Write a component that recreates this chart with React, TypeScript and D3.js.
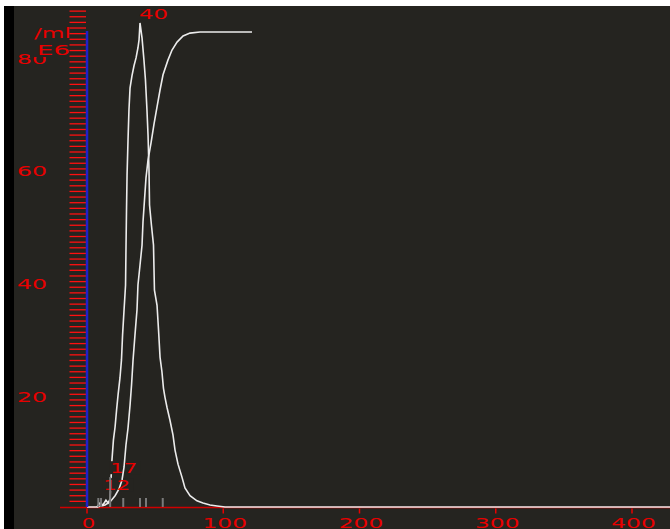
import React from 'react';
import * as d3 from 'd3';

// ---- data ----
const xTickValues = [0, 100, 200, 300, 400];
const yLabelValues = [20, 40, 60, 80];
const yMinorTickValues = d3.range(1, 89);

const histX = [0, 7.3, 9.5, 11.7, 13.9, 15.4, 16.9, 17.6, 18.3, 19.4, 20.6, 21.7, 22.8, 24.2, 25.3, 26.1, 27.2, 28.3, 28.6, 29.0, 29.4, 30.1, 30.8, 31.6, 33.0, 34.5, 36.0, 37.4, 38.2, 38.9, 40.4, 41.8, 42.9, 44.0, 44.8, 45.5, 45.9, 47.3, 48.8, 49.5, 51.4, 52.5, 53.6, 55.0, 56.1, 57.2, 58.7, 60.9, 63.1, 64.6, 66.8, 69.7, 71.9, 75.6, 80.7, 85.1, 90.3, 95.4, 101.3, 428];
const histY = [0, 0, 0.7, 0.35, 1.2, 0.7, 1.4, 4.8, 8.3, 11.9, 14.2, 17.2, 19.9, 22.9, 26.1, 30.5, 35.0, 39.4, 45.6, 52.7, 58.9, 65.1, 70.5, 74.4, 76.5, 78.3, 79.7, 81.5, 82.9, 85.9, 83.2, 79.3, 75.8, 70.5, 66.0, 59.8, 53.6, 50.0, 46.5, 38.5, 35.8, 31.4, 26.6, 24.0, 21.1, 19.5, 17.7, 15.4, 12.8, 10.1, 7.6, 5.3, 3.4, 2.0, 1.1, 0.7, 0.35, 0.18, 0, 0];

const cumX = [7.3, 13.2, 16.9, 20.6, 23.5, 25.7, 27.2, 28.6, 30.1, 31.6, 32.7, 33.8, 35.2, 36.7, 37.4, 38.9, 40.4, 41.1, 42.2, 43.3, 44.8, 47.0, 49.2, 51.4, 53.6, 55.8, 59.4, 62.4, 66.1, 70.5, 75.6, 82.9, 121.1];
const cumY = [0, 0.35, 0.9, 2.0, 3.2, 4.8, 7.1, 11.0, 14.0, 18.1, 21.7, 26.1, 30.5, 35.0, 39.4, 42.9, 46.5, 50.6, 54.5, 58.4, 61.6, 64.6, 68.0, 71.0, 74.0, 76.7, 79.3, 81.1, 82.5, 83.6, 84.1, 84.3, 84.3];

const markerX = [8.3, 10.3, 17, 26.6, 38.9, 43.3, 55.6];
const markerH = [1.6, 1.6, 5.3, 1.6, 1.6, 1.6, 1.6];

const peakLabel = '40';
const discValues = [12, 17];
const discLabels = ['12', '17'];
const discLevels = [3.0, 6.0];

const unitLabel = '/ml';
const expLabel = 'E6';

// ---- layout ----
const W = 670;
const H = 529;
const RED = '#e80000';
const FONT = "'DejaVu Sans', sans-serif";

export default function App() {
  const x = d3.scaleLinear().domain([0, 400]).range([87, 632]);
  const y = d3.scaleLinear().domain([0, 88]).range([507, 507 - 88 * 5.635]);

  const line = d3
    .line<[number, number]>()
    .x((d) => x(d[0]))
    .y((d) => y(d[1]));

  const hist = histX.map((v, i) => [v, histY[i]] as [number, number]);
  const cum = cumX.map((v, i) => [v, cumY[i]] as [number, number]);
  const peakIdx = histY.indexOf(d3.max(histY) as number);

  const tl = (s: string) => s.length * 15.5 - 2;

  return (
    <svg
      width={W}
      height={H}
      style={{ position: 'absolute', left: 0, top: 0, display: 'block' }}
    >
      <rect x={0} y={0} width={W} height={H} fill="#ffffff" />
      <rect x={4} y={6} width={W - 4} height={H - 6} fill="#000000" />
      <rect x={14} y={6} width={W - 14} height={H - 6} fill="#252420" />

      {/* x axis baseline */}
      <line x1={60} x2={W} y1={507.5} y2={507.5} stroke="#d00000" strokeWidth={1.5} />

      {/* histogram */}
      <path d={line(hist) || ''} fill="none" stroke="#ececec" strokeWidth={1.6} />

      {/* discriminator labels with boxes */}
      {discLabels.map((s, i) => (
        <g key={s}>
          <rect
            x={x(discValues[i]) - 1}
            y={y(discLevels[i]) - 12}
            width={tl(s) + 2}
            height={13}
            fill="#252420"
          />
        </g>
      ))}

      {/* cumulative curve */}
      <path d={line(cum) || ''} fill="none" stroke="#ececec" strokeWidth={1.6} />

      {discLabels.map((s, i) => (
        <text
          key={'t' + s}
          x={x(discValues[i])}
          y={y(discLevels[i])}
          fill={RED}
          fontFamily={FONT}
          fontSize={14}
          textLength={tl(s) - 2}
          lengthAdjust="spacingAndGlyphs"
        >
          {s}
        </text>
      ))}

      {/* markers */}
      {markerX.map((v, i) => (
        <line
          key={'m' + i}
          x1={x(v)}
          x2={x(v)}
          y1={y(0)}
          y2={y(markerH[i])}
          stroke="#7a7a7a"
          strokeWidth={2}
        />
      ))}

      {/* peak label */}
      <text
        x={x(histX[peakIdx]) - 1}
        y={y(histY[peakIdx]) - 4}
        fill={RED}
        fontFamily={FONT}
        fontSize={14}
        textLength={tl(peakLabel)}
        lengthAdjust="spacingAndGlyphs"
      >
        {peakLabel}
      </text>

      {/* y labels */}
      {yLabelValues.map((v) => (
        <text
          key={'yl' + v}
          x={17}
          y={y(v) + 7.4}
          fill={RED}
          fontFamily={FONT}
          fontSize={14}
          textLength={30}
          lengthAdjust="spacingAndGlyphs"
        >
          {String(v)}
        </text>
      ))}

      {/* unit labels */}
      <rect x={30} y={41} width={41} height={16} fill="#252420" />
      <text
        x={34}
        y={38}
        fill={RED}
        fontFamily={FONT}
        fontSize={14}
        textLength={37}
        lengthAdjust="spacingAndGlyphs"
      >
        {unitLabel}
      </text>
      <text
        x={37}
        y={55}
        fill={RED}
        fontFamily={FONT}
        fontSize={14}
        textLength={33}
        lengthAdjust="spacingAndGlyphs"
      >
        {expLabel}
      </text>

      {/* y minor ticks */}
      {yMinorTickValues.map((v) => (
        <line
          key={'yt' + v}
          x1={69.5}
          x2={86}
          y1={y(v)}
          y2={y(v)}
          stroke="#ff1010"
          strokeWidth={1.3}
        />
      ))}

      {/* y axis */}
      <line x1={87} x2={87} y1={31} y2={507} stroke="#2020c8" strokeWidth={2.5} />

      {/* x ticks and labels */}
      {xTickValues.map((v) => (
        <g key={'xt' + v}>
          <line
            x1={x(v)}
            x2={x(v)}
            y1={508.5}
            y2={513.5}
            stroke={RED}
            strokeWidth={1.5}
          />
          <text
            x={x(v) + 1.5}
            y={528}
            fill={RED}
            fontFamily={FONT}
            fontSize={14}
            textAnchor="middle"
            textLength={tl(String(v))}
            lengthAdjust="spacingAndGlyphs"
          >
            {String(v)}
          </text>
        </g>
      ))}
    </svg>
  );
}
